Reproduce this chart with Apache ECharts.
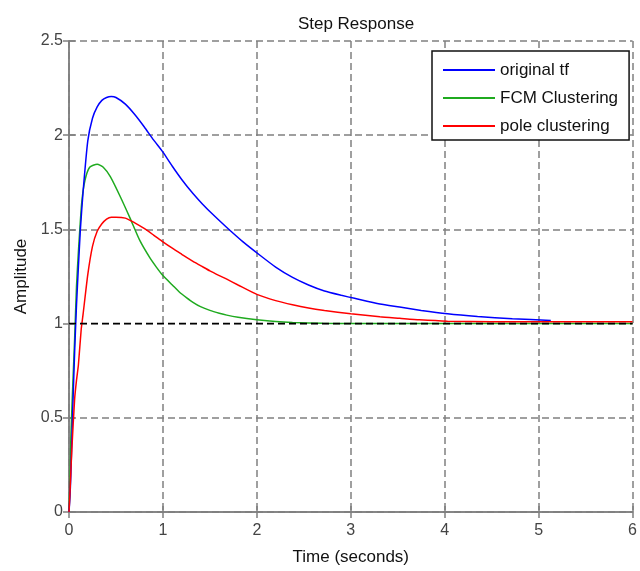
<!DOCTYPE html>
<html>
<head>
<meta charset="utf-8">
<script src="https://cdn.jsdelivr.net/npm/echarts@6/dist/echarts.min.js"></script>
<style>
  html, body { margin: 0; padding: 0; background: #fff; }
  #chart { width: 640px; height: 571px; }
</style>
</head>
<body>
<div id="chart"></div>
<script>
// values
const originalTime = [0, 0.01, 0.02, 0.04, 0.06, 0.08, 0.1, 0.12, 0.15, 0.2, 0.25, 0.3, 0.35, 0.4, 0.45, 0.5, 0.6, 0.7, 0.8, 0.9, 1.0, 1.1, 1.2, 1.32, 1.42, 1.53, 1.68, 1.85, 2.04, 2.2, 2.38, 2.55, 2.72, 2.9, 3.04, 3.31, 3.52, 3.75, 4.03, 4.35, 4.72, 5.13];
const originalValues = [0, 0.08, 0.2, 0.55, 0.85, 1.1, 1.3, 1.49, 1.7, 1.97, 2.09, 2.15, 2.185, 2.2, 2.205, 2.2, 2.165, 2.11, 2.045, 1.975, 1.91, 1.835, 1.765, 1.69, 1.635, 1.58, 1.51, 1.435, 1.36, 1.3, 1.245, 1.205, 1.173, 1.15, 1.134, 1.104, 1.088, 1.07, 1.052, 1.038, 1.026, 1.017];

const fcmTime = [0, 0.01, 0.02, 0.04, 0.06, 0.08, 0.1, 0.135, 0.17, 0.22, 0.3, 0.365, 0.44, 0.54, 0.65, 0.755, 0.86, 0.93, 1.0, 1.1, 1.18, 1.25, 1.32, 1.4, 1.5, 1.6, 1.68, 1.8, 2.0, 2.2, 2.38, 2.7, 3.0, 4.0, 5.0, 6.0];
const fcmValues = [0, 0.15, 0.4, 0.67, 0.92, 1.2, 1.38, 1.64, 1.76, 1.83, 1.846, 1.83, 1.78, 1.68, 1.56, 1.44, 1.35, 1.3, 1.255, 1.205, 1.165, 1.138, 1.113, 1.09, 1.07, 1.055, 1.045, 1.034, 1.021, 1.011, 1.006, 1.002, 1.0, 1.0, 1.0, 1.0];

const poleTime = [0, 0.01, 0.03, 0.06, 0.08, 0.1, 0.13, 0.15, 0.2, 0.25, 0.3, 0.35, 0.4, 0.45, 0.5, 0.6, 0.7, 0.8, 0.9, 1.0, 1.1, 1.2, 1.32, 1.4, 1.5, 1.6, 1.68, 1.8, 2.0, 2.2, 2.38, 2.55, 2.72, 3.0, 3.31, 3.52, 3.73, 4.03, 4.5, 5.0, 5.5, 6.0];
const poleValues = [0, 0.1, 0.33, 0.6, 0.7, 0.78, 0.97, 1.05, 1.26, 1.41, 1.49, 1.53, 1.555, 1.565, 1.565, 1.56, 1.535, 1.505, 1.47, 1.434, 1.4, 1.368, 1.33, 1.308, 1.28, 1.255, 1.236, 1.205, 1.155, 1.122, 1.1, 1.083, 1.07, 1.052, 1.036, 1.028, 1.02, 1.013, 1.01, 1.01, 1.01, 1.01];

const steadyTime = [0, 6];
const steadyValues = [1, 1];

const xTicks = { min: 0, max: 6, interval: 1 };
const yTicks = { min: 0, max: 2.5, interval: 0.5 };

const seriesNames = ['original tf', 'FCM Clustering', 'pole clustering'];

const pairs = (t, v) => t.map((x, i) => [x, v[i]]);

const chart = echarts.init(document.getElementById('chart'));

const frame = '#7f7f7f';
const tickText = '#444';
const font = '"Liberation Sans", Arial, sans-serif';

const plainAxis = {
  axisLine: { show: true, lineStyle: { color: frame, width: 1.5 } },
  axisTick: { show: true, inside: true, length: 6, lineStyle: { color: frame, width: 1.5 } },
  axisLabel: { show: false },
  splitLine: { show: false }
};

chart.setOption({
  animation: false,
  backgroundColor: '#fff',
  title: {
    text: 'Step Response',
    left: 351,
    top: 11,
    textAlign: 'center',
    textStyle: { fontFamily: font, fontSize: 17, fontWeight: 'normal', color: '#111' }
  },
  grid: { left: 69, right: 7, top: 41, bottom: 57 },
  legend: {
    data: seriesNames,
    orient: 'vertical',
    left: 432,
    top: 51,
    icon: 'rect',
    itemWidth: 52,
    itemHeight: 2,
    itemGap: 10,
    padding: [10, 11, 5, 11],
    backgroundColor: '#fff',
    borderColor: '#111',
    borderWidth: 1.5,
    borderRadius: 0,
    textStyle: { fontFamily: font, fontSize: 17, color: '#111', lineHeight: 18 }
  },
  xAxis: [
    {
      type: 'value',
      min: xTicks.min, max: xTicks.max, interval: xTicks.interval,
      name: 'Time (seconds)',
      nameLocation: 'middle',
      nameGap: 37,
      nameTextStyle: { fontFamily: font, fontSize: 17, color: '#111' },
      axisLine: { show: true, onZero: false, lineStyle: { color: frame, width: 1.5 } },
      axisTick: { show: true, inside: true, length: 6, lineStyle: { color: frame, width: 1.5 } },
      axisLabel: { margin: 11, fontFamily: font, fontSize: 16, color: tickText },
      splitLine: { show: true, lineStyle: { color: '#808080', type: [7, 4], width: 1.5 } }
    },
    Object.assign({
      type: 'value', position: 'top',
      min: xTicks.min, max: xTicks.max, interval: xTicks.interval
    }, plainAxis)
  ],
  yAxis: [
    {
      type: 'value',
      min: yTicks.min, max: yTicks.max, interval: yTicks.interval,
      name: 'Amplitude',
      nameLocation: 'middle',
      nameGap: 38,
      nameTextStyle: { fontFamily: font, fontSize: 17, color: '#111' },
      axisLine: { show: true, onZero: false, lineStyle: { color: frame, width: 1.5 } },
      axisTick: { show: true, inside: true, length: 6, lineStyle: { color: frame, width: 1.5 } },
      axisLabel: { margin: 6, fontFamily: font, fontSize: 16, color: tickText },
      splitLine: { show: true, lineStyle: { color: '#808080', type: [7, 4], width: 1.5 } }
    },
    Object.assign({
      type: 'value', position: 'right',
      min: yTicks.min, max: yTicks.max, interval: yTicks.interval
    }, plainAxis)
  ],
  series: [
    {
      name: seriesNames[0], type: 'line', showSymbol: false, smooth: 0.2,
      data: pairs(originalTime, originalValues),
      lineStyle: { color: '#0000ff', width: 1.5 }, itemStyle: { color: '#0000ff' }, z: 3
    },
    {
      name: seriesNames[1], type: 'line', showSymbol: false, smooth: 0.2,
      data: pairs(fcmTime, fcmValues),
      lineStyle: { color: '#1faa1f', width: 1.5 }, itemStyle: { color: '#1faa1f' }, z: 2
    },
    {
      name: seriesNames[2], type: 'line', showSymbol: false, smooth: 0.2,
      data: pairs(poleTime, poleValues),
      lineStyle: { color: '#ff0000', width: 1.5 }, itemStyle: { color: '#ff0000' }, z: 4
    },
    {
      name: 'steady state', type: 'line', showSymbol: false, silent: true,
      data: pairs(steadyTime, steadyValues),
      lineStyle: { color: '#000', width: 1.5, type: [7, 4] }, z: 5
    }
  ]
});
</script>
</body>
</html>
